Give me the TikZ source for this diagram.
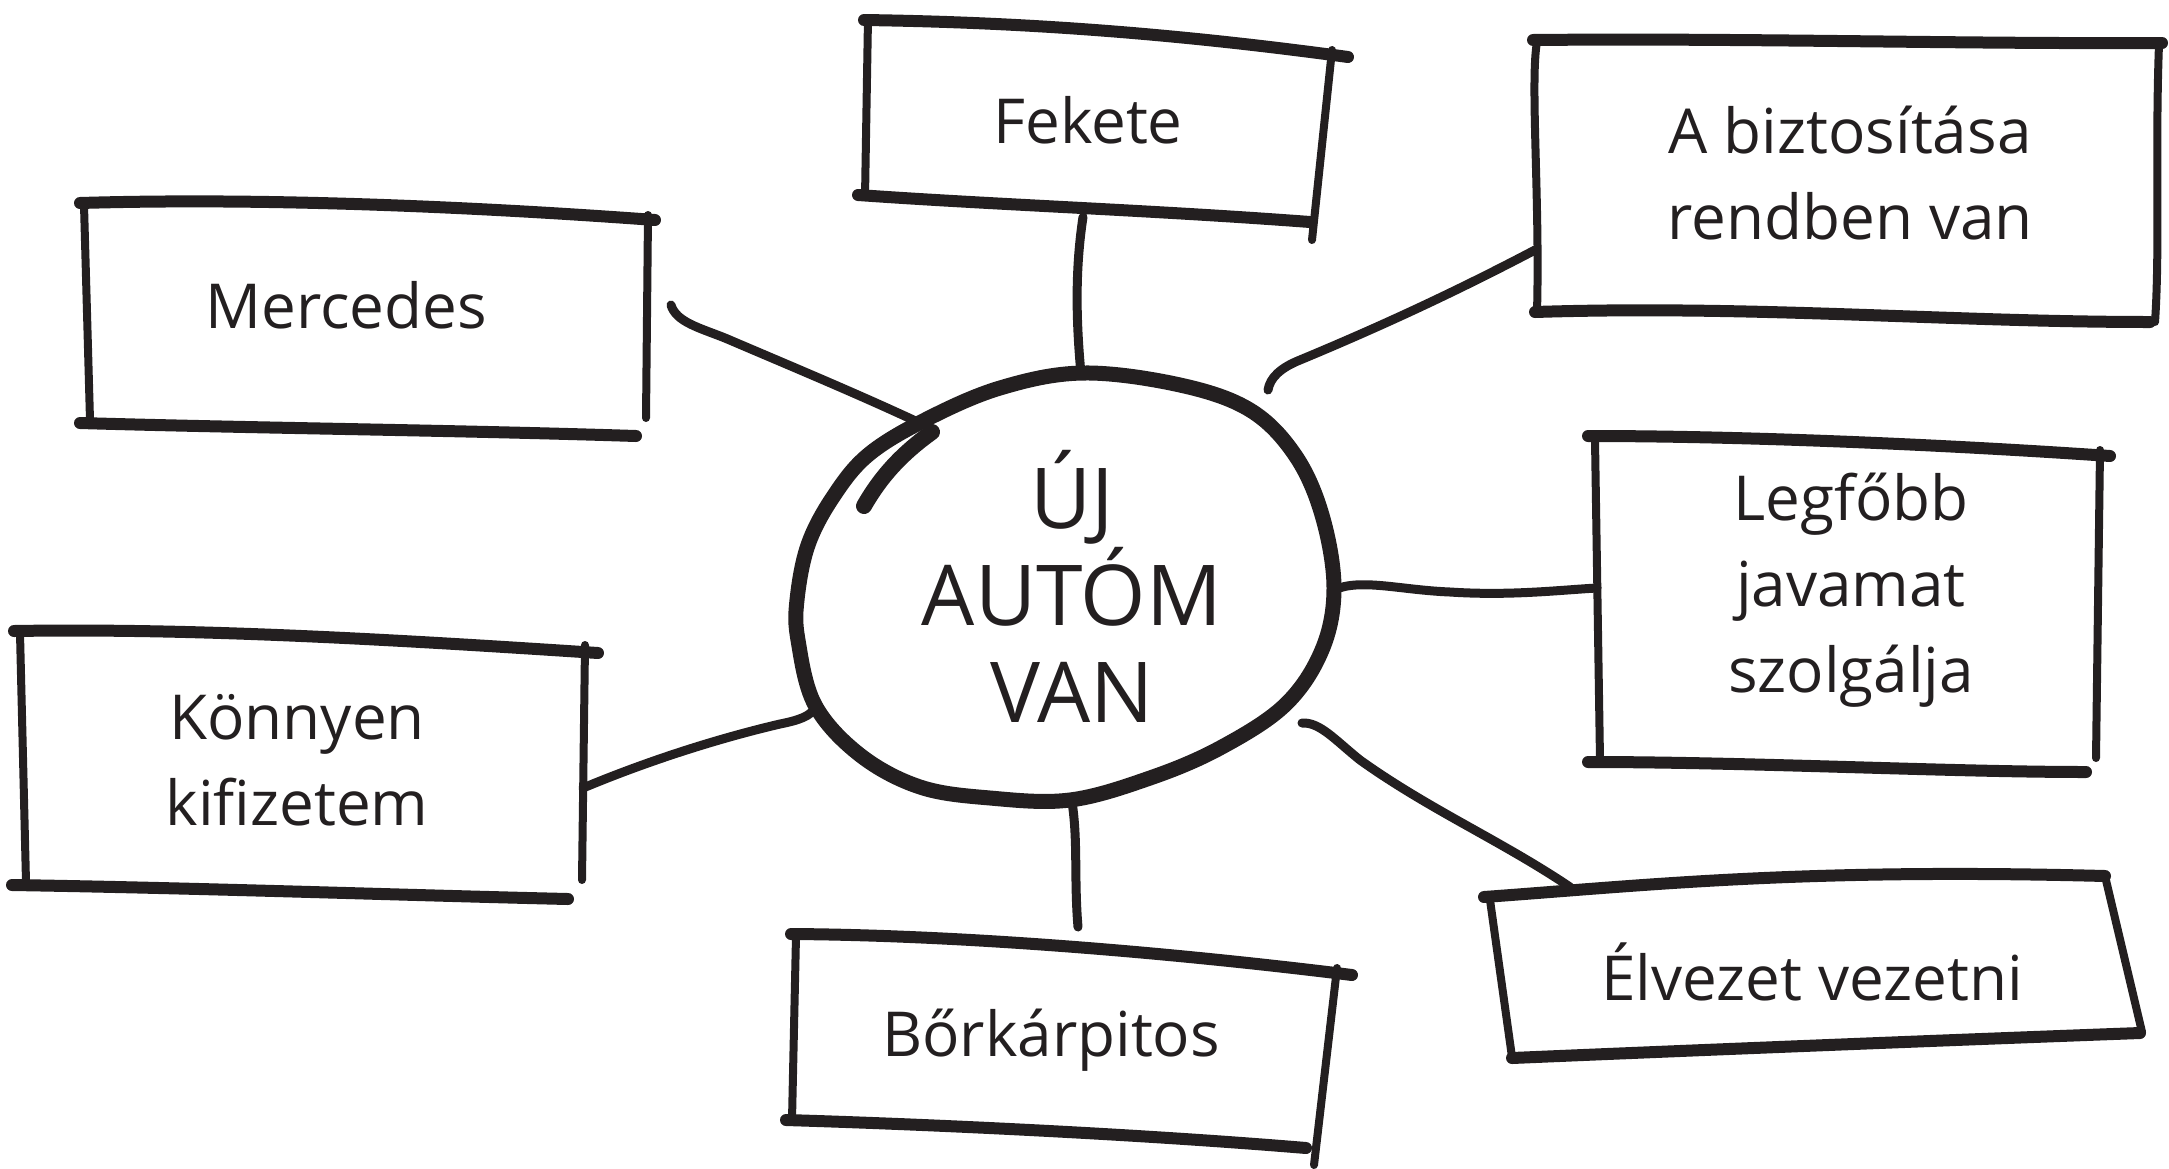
\documentclass[tikz,border=0pt]{standalone}
\usepackage{fontspec}
\setmainfont{Open Sans}
\definecolor{ink}{HTML}{231F20}
\begin{document}
\begin{tikzpicture}[x=1pt,y=-1pt,line cap=round,line join=round]
  \tikzstyle{every node}=[font=\fontsize{62}{86}\selectfont,align=center,text=ink]
  \tikzstyle{rim}=[draw=ink,line width=12]
  \tikzstyle{side}=[draw=ink,line width=8]
  \tikzstyle{link}=[draw=ink,line width=9]
  \useasboundingbox (0,0) rectangle (2169,1168);

  % boxes
  \draw[rim] (864,20) .. controls (1000,22) and (1150,30) .. (1348,57);
  \draw[side] (1332,50) -- (1312,240);
  \draw[rim] (858,195) .. controls (1000,205) and (1150,210) .. (1310,222);
  \draw[side] (868,18) -- (865,197);

  \draw[rim] (80,203) .. controls (250,198) and (450,205) .. (655,220);
  \draw[side] (648,215) -- (646,418);
  \draw[rim] (80,423) .. controls (250,428) and (450,430) .. (636,436);
  \draw[side] (84,205) -- (90,420);

  \draw[rim] (1533,40) .. controls (1750,38) and (1950,44) .. (2162,43);
  \draw[side] (2159,44) .. controls (2155,150) and (2160,250) .. (2155,322);
  \draw[rim] (1535,312) .. controls (1750,305) and (1950,322) .. (2150,322);
  \draw[side] (1537,42) .. controls (1530,80) and (1540,200) .. (1537,312);

  \draw[rim] (1588,436) .. controls (1750,436) and (1950,445) .. (2110,456);
  \draw[side] (2100,450) -- (2096,758);
  \draw[rim] (1588,762) .. controls (1750,762) and (1950,772) .. (2086,772);
  \draw[side] (1595,440) -- (1600,760);

  \draw[rim] (14,631) .. controls (200,628) and (400,640) .. (598,653);
  \draw[side] (585,645) -- (582,880);
  \draw[rim] (12,885) .. controls (200,888) and (400,895) .. (568,899);
  \draw[side] (20,633) -- (26,882);

  \draw[rim] (791,934) .. controls (950,935) and (1150,950) .. (1352,975);
  \draw[side] (1337,968) -- (1314,1165);
  \draw[rim] (786,1120) .. controls (950,1125) and (1150,1135) .. (1306,1148);
  \draw[side] (796,936) -- (792,1120);

  \draw[rim] (1484,897) .. controls (1650,885) and (1800,868) .. (2105,876);
  \draw[side] (2105,876) -- (2142,1032);
  \draw[rim] (1512,1058) .. controls (1700,1050) and (1950,1040) .. (2140,1033);
  \draw[side] (1490,900) -- (1512,1057);

  % labels
  \node (fekete) at (1088,120) {Fekete};
  \node (biztositas) at (1850,173) {A biztosítása\\rendben van};
  \node (mercedes) at (346,305) {Mercedes};
  \node (javamat) at (1851,590) {Legfőbb\\javamat\\szolgálja};
  \node (konnyen) at (297,760) {Könnyen\\kifizetem};
  \node (borkarpitos) at (1051,1040) {Bőrkárpitos};
  \node (elvezet) at (1812,972) {Élvezet vezetni};
  \node[font=\fontsize{84}{97}\selectfont] (hub) at (1072,586) {ÚJ\\AUTÓM\\VAN};

  % centre
  \draw[ink,line width=15] plot[smooth cycle,tension=0.6] coordinates {
    (1083,373) (1180,385) (1250,410) (1295,455) (1322,515) (1334,588)
    (1322,650) (1285,705) (1220,748) (1150,778) (1070,800) (990,798)
    (920,787) (860,755) (815,705) (798,640) (797,600) (808,545)
    (833,497) (868,455) (925,420) (1000,388)};
  \draw[ink,line width=16] (864,506) .. controls (880,478) and (900,455) .. (932,432);

  % links
  \coordinate (fekete-s) at (1083,217);
  \coordinate (hub-n) at (1081,374);
  \coordinate (biztositas-w) at (1535,250);
  \coordinate (hub-ne) at (1268,390);
  \coordinate (mercedes-e) at (671,305);
  \coordinate (hub-nw) at (922,424);
  \coordinate (javamat-w) at (1597,588);
  \coordinate (hub-e) at (1334,590);
  \coordinate (konnyen-e) at (583,788);
  \coordinate (hub-w) at (815,708);
  \coordinate (borkarpitos-n) at (1078,927);
  \coordinate (hub-s) at (1072,802);
  \coordinate (elvezet-n) at (1570,887);
  \coordinate (hub-se) at (1302,723);

  \draw[link] (fekete-s) .. controls (1075,270) and (1076,320) .. (hub-n);
  \draw[link] (biztositas-w) .. controls (1440,300) and (1360,335) .. (1300,360)
    .. controls (1280,368) and (1270,378) .. (hub-ne);
  \draw[link] (mercedes-e) .. controls (676,322) and (700,328) .. (725,338)
    .. controls (800,370) and (860,395) .. (hub-nw);
  \draw[link] (hub-e) .. controls (1360,578) and (1400,590) .. (1450,592)
    .. controls (1510,596) and (1560,590) .. (javamat-w);
  \draw[link] (konnyen-e) .. controls (650,760) and (720,738) .. (780,724)
    .. controls (800,720) and (810,716) .. (hub-w);
  \draw[link] (hub-s) .. controls (1078,840) and (1074,880) .. (borkarpitos-n);
  \draw[link] (hub-se) .. controls (1320,722) and (1335,740) .. (1360,760)
    .. controls (1430,810) and (1500,840) .. (elvezet-n);
\end{tikzpicture}
\end{document}
